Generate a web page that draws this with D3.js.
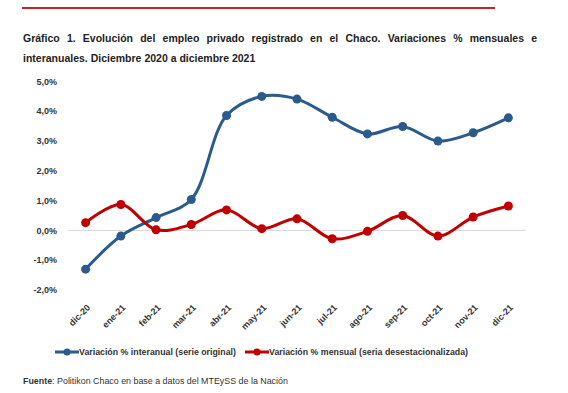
<!DOCTYPE html>
<html><head><meta charset="utf-8">
<script src="https://cdn.jsdelivr.net/npm/d3@7"></script>
<style>
body{margin:0;background:#fff;font-family:"Liberation Sans",Arial,sans-serif;}
#wrap{position:relative;width:568px;height:393px;overflow:hidden;}
#title{position:absolute;left:23px;top:28px;width:514px;font-weight:bold;font-size:10.5px;line-height:20px;color:#222;text-align:justify;}
svg{position:absolute;left:0;top:0;}
</style></head>
<body><div id="wrap"><svg id="chart" width="568" height="393"></svg>
<div id="title">Gráfico 1. Evolución del empleo privado registrado en el Chaco. Variaciones % mensuales e interanuales. Diciembre 2020 a diciembre 2021</div></div>
<script>
const categories = ["dic-20","ene-21","feb-21","mar-21","abr-21","may-21","jun-21","jul-21","ago-21","sep-21","oct-21","nov-21","dic-21"];
const interanual = [-1.3,-0.19,0.43,1.04,3.86,4.5,4.41,3.8,3.24,3.49,3.0,3.28,3.78];
const mensual = [0.26,0.87,0.02,0.2,0.69,0.06,0.39,-0.28,-0.03,0.5,-0.19,0.45,0.82];
const yTicks = [5,4,3,2,1,0,-1,-2];
const seriesNames = ["Variación % interanual (serie original)","Variación % mensual (seria desestacionalizada)"];
const colors = ["#2B5B8C","#C00000"];

const svg = d3.select("#chart");
// top rule
svg.append("line").attr("x1",22).attr("x2",495).attr("y1",8).attr("y2",8)
  .attr("stroke","#C8232B").attr("stroke-width",2);

const x = d3.scalePoint().domain(categories).range([68,526]).padding(0.5);
const y = d3.scaleLinear().domain([-2,5]).range([290,81.5]);

// y labels
svg.append("g").selectAll("text").data(yTicks).join("text")
  .attr("x",57).attr("y",d=>y(d)).attr("dy","0.35em").attr("text-anchor","end")
  .attr("font-size",9).attr("font-weight","bold").attr("fill","#333")
  .text(d=>d3.format(".1f")(d).replace(".",",").replace("−","-")+"%");

// zero line
svg.append("line").attr("x1",68).attr("x2",526).attr("y1",y(0)).attr("y2",y(0))
  .attr("stroke","#d9d9d9").attr("stroke-width",1);

// x labels
svg.append("g").selectAll("text").data(categories).join("text")
  .attr("transform",d=>`translate(${x(d)+3},${306}) rotate(-45)`)
  .attr("text-anchor","end").attr("dy","0.35em")
  .attr("font-size",9).attr("font-weight","bold").attr("fill","#333").text(d=>d);

const line = d3.line().x((d,i)=>x(categories[i])).y(d=>y(d)).curve(d3.curveCatmullRom.alpha(0.5));
[interanual,mensual].forEach((s,k)=>{
  const g = svg.append("g");
  g.append("path").datum(s).attr("d",line).attr("fill","none").attr("stroke",colors[k]).attr("stroke-width",3);
  g.selectAll("circle").data(s).join("circle").attr("cx",(d,i)=>x(categories[i])).attr("cy",d=>y(d))
    .attr("r",4.5).attr("fill",colors[k]);
});

// legend
const leg = [{x:55,tx:79},{x:245,tx:269}];
seriesNames.forEach((n,k)=>{
  const g = svg.append("g");
  g.append("line").attr("x1",leg[k].x).attr("x2",leg[k].x+24).attr("y1",352).attr("y2",352)
    .attr("stroke",colors[k]).attr("stroke-width",3);
  g.append("circle").attr("cx",leg[k].x+12).attr("cy",352).attr("r",3.5).attr("fill",colors[k]);
  g.append("text").attr("x",leg[k].tx).attr("y",352).attr("dy","0.35em")
    .attr("font-size",8.8).attr("font-weight","bold").attr("fill","#333").text(n);
});

// source
const src = svg.append("text").attr("x",23).attr("y",381).attr("dy","0.35em").attr("font-size",8.9).attr("fill","#333");
src.append("tspan").attr("font-weight","bold").text("Fuente");
src.append("tspan").text(": Politikon Chaco en base a datos del MTEySS de la Nación");
</script></body></html>
